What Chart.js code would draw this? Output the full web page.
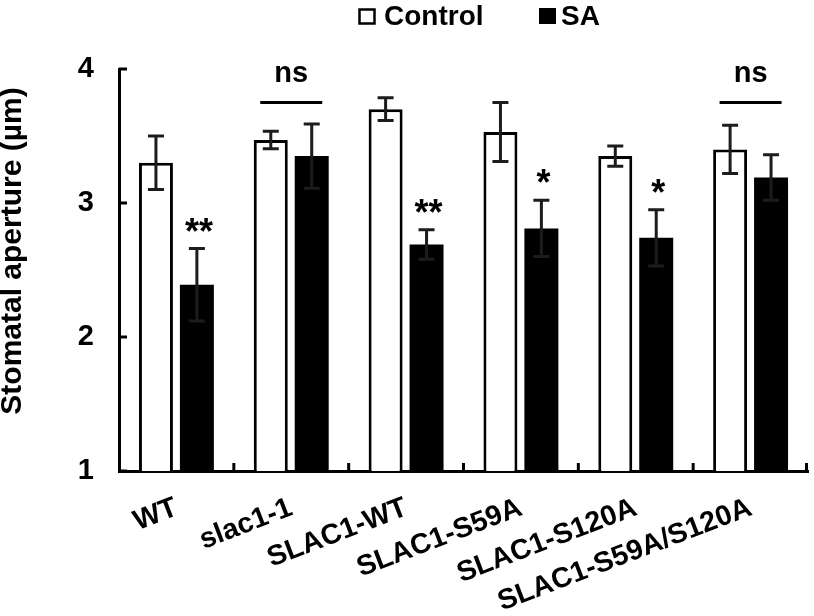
<!DOCTYPE html>
<html>
<head>
<meta charset="utf-8">
<script src="https://cdn.jsdelivr.net/npm/chart.js@4.4.1/dist/chart.umd.min.js"></script>
<style>
  html, body { margin: 0; padding: 0; background: #fff; }
</style>
</head>
<body>
<canvas id="barChart" width="814" height="616"></canvas>
<script>
// Data
const categories = ['WT', 'slac1-1', 'SLAC1-WT', 'SLAC1-S59A', 'SLAC1-S120A', 'SLAC1-S59A/S120A'];
const controlMeans = [3.30, 3.47, 3.70, 3.53, 3.35, 3.40];
const controlErr = [0.20, 0.065, 0.085, 0.22, 0.075, 0.18];
const saMeans = [2.39, 3.35, 2.69, 2.81, 2.74, 3.19];
const saErr = [0.27, 0.24, 0.11, 0.21, 0.21, 0.17];
const yTicks = [1, 2, 3, 4];
const significance = ['**', 'ns', '**', '*', '*', 'ns'];

const fontFamily = "'Liberation Sans', Arial, sans-serif";
const ink = '#000';

// Error bars, inner ticks, significance marks, legend and y title
const overlay = {
  id: 'overlay',
  afterDatasetsDraw(chart) {
    const ctx = chart.ctx;
    const xs = chart.scales.x;
    const ys = chart.scales.y;
    const area = chart.chartArea;
    ctx.save();

    // error bars
    [[0, controlErr], [1, saErr]].forEach(([di, errs]) => {
      const meta = chart.getDatasetMeta(di);
      const means = chart.data.datasets[di].data;
      meta.data.forEach((bar, i) => {
        const top = ys.getPixelForValue(means[i] + errs[i]);
        const bot = ys.getPixelForValue(means[i] - errs[i]);
        ctx.strokeStyle = '#1c1c1c';
        ctx.lineWidth = 3;
        ctx.beginPath();
        ctx.moveTo(bar.x, top); ctx.lineTo(bar.x, bot);
        ctx.moveTo(bar.x - 8, top); ctx.lineTo(bar.x + 8, top);
        ctx.moveTo(bar.x - 8, bot); ctx.lineTo(bar.x + 8, bot);
        ctx.stroke();
      });
    });

    // inner tick marks
    ctx.strokeStyle = ink;
    ctx.lineWidth = 3;
    ctx.beginPath();
    yTicks.forEach(v => {
      const py = ys.getPixelForValue(v);
      ctx.moveTo(area.left, py); ctx.lineTo(area.left + 8, py);
    });
    for (let i = 0; i < categories.length; i++) {
      const px = i < categories.length - 1
        ? (xs.getPixelForTick(i) + xs.getPixelForTick(i + 1)) / 2
        : area.right - 1.5;
      ctx.moveTo(px, area.bottom); ctx.lineTo(px, area.bottom - 8);
    }
    ctx.stroke();

    // significance marks
    const saMeta = chart.getDatasetMeta(1);
    significance.forEach((s, i) => {
      ctx.fillStyle = ink;
      ctx.textAlign = 'center';
      if (s === 'ns') {
        const cx = xs.getPixelForTick(i);
        ctx.font = 'bold 29px ' + fontFamily;
        ctx.textBaseline = 'middle';
        ctx.fillText('ns', cx, ys.getPixelForValue(3.96));
        const ly = ys.getPixelForValue(3.75);
        ctx.beginPath();
        ctx.moveTo(cx - 31, ly); ctx.lineTo(cx + 31, ly);
        ctx.stroke();
      } else {
        const bar = saMeta.data[i];
        const top = ys.getPixelForValue(saMeans[i] + saErr[i]);
        ctx.font = 'bold 36px ' + fontFamily;
        ctx.textBaseline = 'alphabetic';
        ctx.fillText(s, bar.x + 2, top - 5);
      }
    });

    // legend
    ctx.font = 'bold 28px ' + fontFamily;
    ctx.textAlign = 'left';
    ctx.textBaseline = 'middle';
    ctx.lineWidth = 2.5;
    ctx.strokeRect(359.5, 9.5, 15, 14);
    ctx.fillText('Control', 384, 17);
    ctx.fillRect(539, 8, 17, 16);
    ctx.fillText('SA', 561, 17);

    // y-axis title
    ctx.font = 'bold 30px ' + fontFamily;
    ctx.translate(13, 251);
    ctx.rotate(-Math.PI / 2);
    ctx.textAlign = 'center';
    ctx.fillText('Stomatal aperture (\u00b5m)', 0, 0);
    ctx.restore();
  }
};

const ctx = document.getElementById('barChart').getContext('2d');
const barChart = new Chart(ctx, {
  type: 'bar',
  data: {
    labels: categories,
    datasets: [{
      label: 'Control',
      data: controlMeans,
      backgroundColor: '#fff',
      borderColor: ink,
      borderWidth: 3
    }, {
      label: 'SA',
      data: saMeans,
      backgroundColor: ink,
      borderColor: ink,
      borderWidth: 0
    }]
  },
  options: {
    responsive: false,
    animation: false,
    categoryPercentage: 0.713,
    barPercentage: 0.83,
    layout: {
      padding: { left: 40, right: 6, top: 69, bottom: 0 }
    },
    plugins: {
      legend: { display: false },
      tooltip: { enabled: false }
    },
    scales: {
      x: {
        grid: { display: false, drawTicks: false },
        border: { display: true, color: ink, width: 3 },
        ticks: {
          color: ink,
          font: { family: fontFamily, size: 28.5, weight: 'bold' },
          minRotation: 21,
          maxRotation: 21,
          autoSkip: false,
          padding: 20
        },
        afterFit(scale) { scale.height = 145; }
      },
      y: {
        min: 1,
        max: 4,
        grid: { display: false, drawTicks: false },
        border: { display: true, color: ink, width: 3 },
        ticks: {
          color: ink,
          stepSize: 1,
          font: { family: fontFamily, size: 29, weight: 'bold' },
          padding: 25
        },
        afterFit(scale) { scale.width = 79; }
      }
    }
  },
  plugins: [overlay]
});
</script>
</body>
</html>
